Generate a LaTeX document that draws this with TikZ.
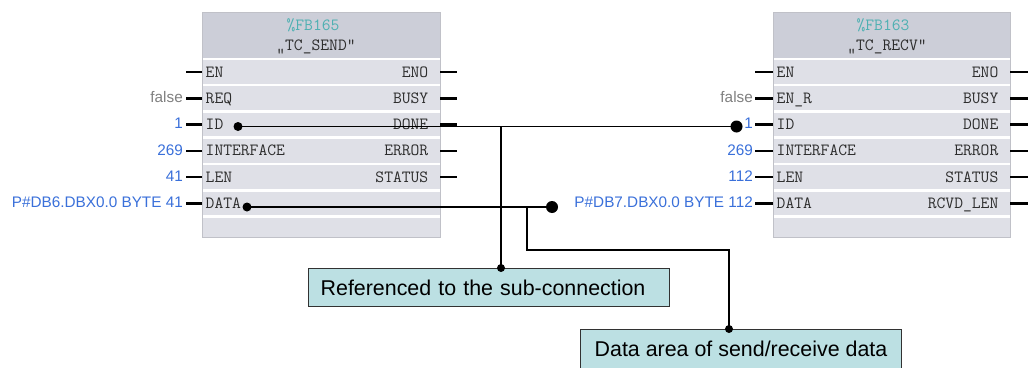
\documentclass[tikz,border=0pt]{standalone}
\usepackage{fontspec}
\setmainfont{Liberation Sans}

\definecolor{hdrgray}{RGB}{204,206,216}
\definecolor{rowgray}{RGB}{223,224,231}
\definecolor{edgegray}{RGB}{192,193,200}
\definecolor{pintext}{RGB}{45,45,45}
\definecolor{valblue}{RGB}{58,112,218}
\definecolor{valgray}{RGB}{128,128,128}
\definecolor{fbteal}{RGB}{78,176,178}
\definecolor{notefill}{RGB}{188,224,227}
\definecolor{notedge}{RGB}{50,50,50}

\newcommand\pinfont{\ttfamily\fontsize{17.1}{20}\selectfont}
\newcommand\valfont{\fontsize{15.3}{18}\selectfont}
\newcommand\notefont{\fontsize{21.4}{25}\selectfont}

% body of a function block: header, six pin rows, footer
\newcommand\fbframe[2]{%
  \fill[hdrgray] (#1,12) rectangle (#2,57.5);
  \foreach \i in {0,...,5}
    \fill[rowgray] (#1,{60+26.3*\i}) rectangle (#2,{83.7+26.3*\i});
  \fill[rowgray] (#1,217.5) rectangle (#2,237.5);
  \draw[edgegray, line width=0.8pt] (#1,12) rectangle (#2,237.5);
}

\begin{document}
\begin{tikzpicture}[x=1pt, y=-1pt,
  pin/.style={font=\pinfont, text=pintext, inner sep=0},
  hdr/.style={font=\pinfont, inner sep=0, anchor=base},
  val/.style={font=\valfont, inner sep=0, anchor=base east},
  stub/.style={line width=2.4pt},
  wire/.style={line width=1.5pt},
  idwire/.style={line width=1.9pt},
  bigdot/.style={circle, fill=black, inner sep=0, minimum size=12pt},
  smalldot/.style={circle, fill=black, inner sep=0, minimum size=9pt},
  tinydot/.style={circle, fill=black, inner sep=0, minimum size=8pt},
  note/.style={draw=notedge, line width=1.3pt, fill=notefill, font=\notefont,
    anchor=north west, inner xsep=12pt, inner ysep=0pt, align=left,
    text height=15.4pt},
]
\useasboundingbox (0,0) rectangle (1028,367);
\clip (0,0) rectangle (1028,367);
\fill[white] (0,0) rectangle (1028,367);

% ---------- TC_SEND ----------
\fbframe{202}{440}
\node[hdr, text=fbteal] (send-num) at (313,30) {\%FB165};
\node[hdr, text=pintext] (send-name) at (316,50) {„TC\_SEND“};
\foreach \n [count=\i from 0] in {EN,REQ,ID,INTERFACE,LEN,DATA}{
  \node[pin, anchor=base west] (send-in-\i) at (205.5,{77+26.3*\i}) {\n};
  \draw[stub] (186,{72+26.3*\i}) -- (202,{72+26.3*\i});
}
\foreach \n [count=\i from 0] in {ENO,BUSY,DONE,ERROR,STATUS}{
  \node[pin, anchor=base east] (send-out-\i) at (428.5,{77+26.3*\i}) {\n};
  \draw[stub] (440,{72+26.3*\i}) -- (457,{72+26.3*\i});
}
\node[val, text=valgray] (send-v1) at (183,102.5) {false};
\node[val, text=valblue] (send-v2) at (183,128.8) {1};
\node[val, text=valblue] (send-v3) at (183,155.1) {269};
\node[val, text=valblue] (send-v4) at (183,181.4) {41};
\node[val, text=valblue] (send-v5) at (183,207.9) {P\#DB6.DBX0.0 BYTE 41};

% ---------- TC_RECV ----------
\fbframe{773}{1010}
\node[hdr, text=fbteal] (recv-num) at (883,30) {\%FB163};
\node[hdr, text=pintext] (recv-name) at (887,50) {„TC\_RECV“};
\foreach \n [count=\i from 0] in {EN,EN\_R,ID,INTERFACE,LEN,DATA}{
  \node[pin, anchor=base west] (recv-in-\i) at (776.5,{77+26.3*\i}) {\n};
  \draw[stub] (755,{72+26.3*\i}) -- (773,{72+26.3*\i});
}
\foreach \n [count=\i from 0] in {ENO,BUSY,DONE,ERROR,STATUS,RCVD\_LEN}{
  \node[pin, anchor=base east] (recv-out-\i) at (998.5,{77+26.3*\i}) {\n};
  \draw[stub] (1010,{72+26.3*\i}) -- (1028,{72+26.3*\i});
}
\node[val, text=valgray] (recv-v1) at (753,102.5) {false};
\node[val, text=valblue] (recv-v2) at (753,128.8) {1};
\node[val, text=valblue] (recv-v3) at (753,155.1) {269};
\node[val, text=valblue] (recv-v4) at (753,181.4) {112};
\node[val, text=valblue] (recv-v5) at (753,207.9) {P\#DB7.DBX0.0 BYTE 112};

% ---------- notes ----------
\node[note, text width=337pt, minimum height=38pt] (note1) at (308,268)
  {Referenced to the sub-connection};
\node[note, minimum width=320.7pt, minimum height=44pt, text depth=6pt] (note2) at (580,329)
  {Data area of send/receive data};

% ---------- connection points ----------
\node[smalldot] (sid) at (238,126.5) {};
\node[bigdot] (rid) at (736.5,126.5) {};
\node[smalldot] (sdata) at (247,207) {};
\node[bigdot] (rdata) at (552,207) {};
\node[tinydot] (n1dot) at (501,268) {};
\node[tinydot] (n2dot) at (729,329) {};
\coordinate (j1) at (501,126.5);
\coordinate (j2) at (527,207);
\coordinate (bend) at (729,250);

% ---------- wires ----------
\draw[idwire] (sid.center) -- (rid.center);
\draw[wire] (j1) -- (n1dot.center);
\draw[wire] (sdata.center) -- (rdata.center);
\draw[wire] (j2) |- (bend) -- (n2dot.center);
\end{tikzpicture}
\end{document}
